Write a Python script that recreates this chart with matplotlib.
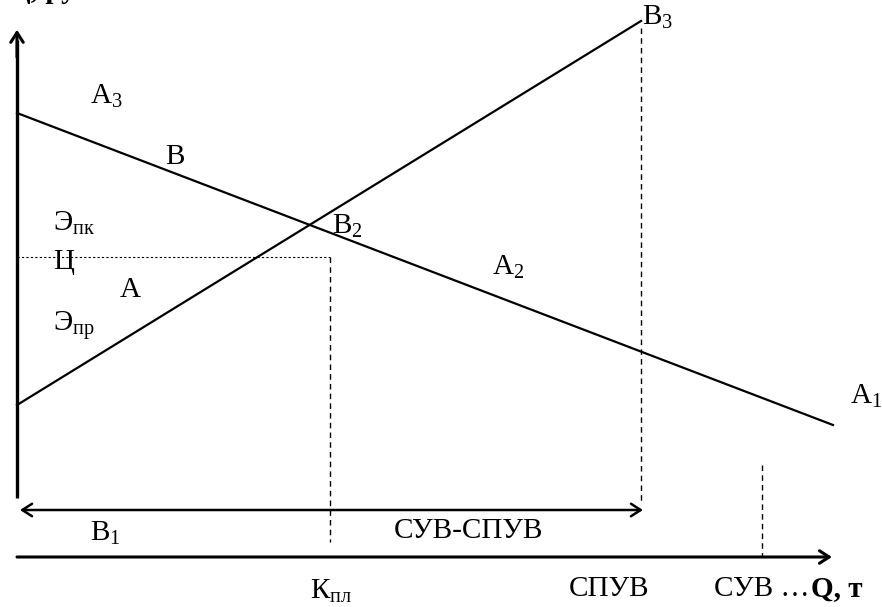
import matplotlib
matplotlib.use('Agg')
from matplotlib import pyplot as plt

plt.rcParams['font.family'] = ['Liberation Serif', 'DejaVu Serif']
plt.rcParams['mathtext.fontset'] = 'custom'
plt.rcParams['mathtext.rm'] = 'Liberation Serif'
plt.rcParams['mathtext.it'] = 'Liberation Serif'

# schematic coordinates (picture units, y grows downward)
demand_x = [17, 833]
demand_y = [113, 425]
supply_x = [17, 641]
supply_y = [405, 21]
price_level = 257
kpl_x = 330
spuv_x = 641
suv_x = 762

labels = [
    ('$\\mathregular{А_3}$', 90, 96, 'left'),
    ('В', 165, 157, 'left'),
    ('$\\mathregular{Э_{пк}}$', 53, 223, 'left'),
    ('Ц', 53, 262, 'left'),
    ('А', 120, 290, 'left'),
    ('$\\mathregular{Э_{пр}}$', 53, 325, 'left'),
    ('$\\mathregular{В_2}$', 332, 226, 'left'),
    ('$\\mathregular{А_2}$', 492, 267, 'left'),
    ('$\\mathregular{А_1}$', 850, 396, 'left'),
    ('$\\mathregular{В_3}$', 642, 17, 'left'),
    ('$\\mathregular{В_1}$', 90, 533, 'left'),
    ('СУВ-СПУВ', 394, 531, 'left'),
    ('$\\mathregular{К_{пл}}$', 310, 591, 'left'),
    ('СПУВ', 569, 589, 'left'),
]

fig = plt.figure(figsize=(8.82, 6.07), dpi=100)
ax = fig.add_axes([0, 0, 1, 1])
ax.set_xlim(0, 882)
ax.set_ylim(607, 0)
ax.axis('off')

lw = 1.6
ax.plot(demand_x, demand_y, color='black', lw=lw)
ax.plot(supply_x, supply_y, color='black', lw=lw)

# guide lines
ax.plot([17, kpl_x], [price_level, price_level], color='black', lw=0.8, ls=(0, (2, 2)))
ax.plot([kpl_x, kpl_x], [price_level, 542], color='black', lw=1.0, ls=(0, (4, 3)))
ax.plot([spuv_x, spuv_x], [28, 503], color='black', lw=1.0, ls=(0, (4, 3)))
ax.plot([suv_x, suv_x], [465, 556], color='black', lw=1.0, ls=(0, (4, 3)))

# axes
ax.plot([17, 17], [498, 40], color='black', lw=2.4, solid_capstyle='butt')
ax.annotate('', xy=(17, 27), xytext=(17, 60),
            arrowprops=dict(arrowstyle='->,head_length=0.7,head_width=0.45', lw=2.2, color='black'))
ax.annotate('', xy=(832, 557), xytext=(17, 557),
            arrowprops=dict(arrowstyle='->,head_length=0.7,head_width=0.45', lw=2.2, color='black',
                            shrinkA=0, shrinkB=0))
ax.annotate('', xy=(20, 510), xytext=(643, 510),
            arrowprops=dict(arrowstyle='<->,head_length=0.7,head_width=0.45', lw=1.8, color='black',
                            shrinkA=0, shrinkB=0))

for txt, x, y, ha in labels:
    ax.text(x, y, txt, fontsize=21, ha=ha, va='center', color='black')

ax.text(714, 589, 'СУВ …', fontsize=21, ha='left', va='center')
ax.text(811, 589, 'Q, т', fontsize=21, ha='left', va='center', fontweight='bold')
# y axis caption, mostly cut off at the top edge
ax.text(8, -10, 'Ц, руб', fontsize=21, ha='left', va='center', fontweight='bold')

fig.savefig('out.png', dpi=100)
